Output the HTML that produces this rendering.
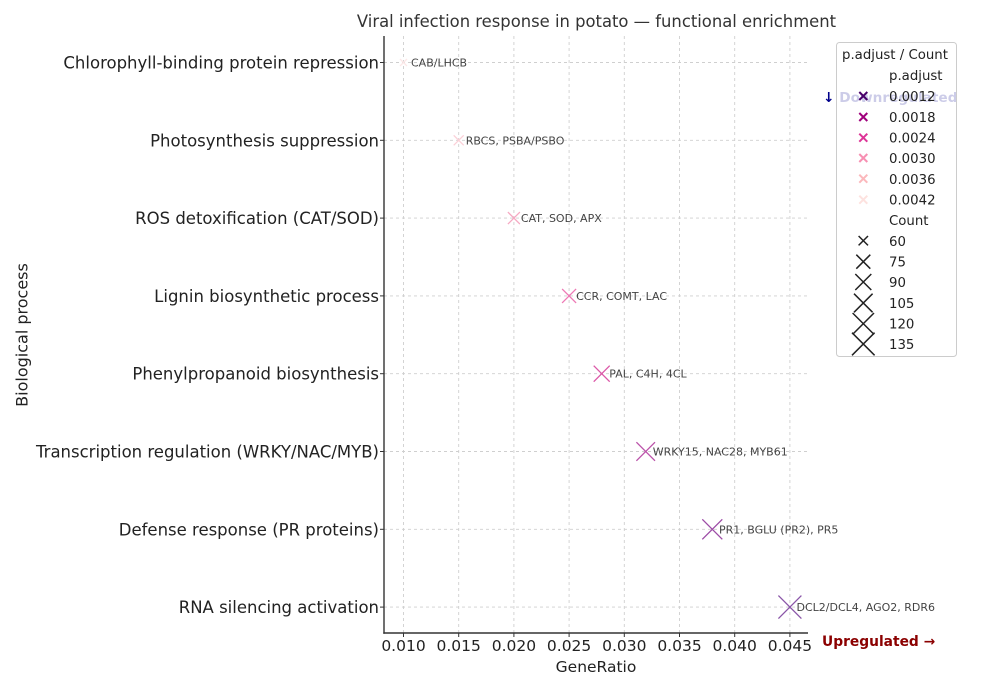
<!DOCTYPE html>
<html><head><meta charset="utf-8"><style>
html,body{margin:0;padding:0;background:#fff;}
svg{display:block;font-family:"DejaVu Sans","Liberation Sans",sans-serif;}
</style></head><body>
<svg width="989" height="692" viewBox="0 0 989 692" xmlns="http://www.w3.org/2000/svg">
<rect width="989" height="692" fill="#fff"/>
<text x="596.5" y="27" font-size="16.4" fill="#333" text-anchor="middle">Viral infection response in potato — functional enrichment</text>
<g stroke="#cfcfcf" stroke-width="0.9" stroke-dasharray="3,3">
<line x1="403.5" y1="36" x2="403.5" y2="633"/><line x1="458.7" y1="36" x2="458.7" y2="633"/><line x1="513.9" y1="36" x2="513.9" y2="633"/><line x1="569.1" y1="36" x2="569.1" y2="633"/><line x1="624.3" y1="36" x2="624.3" y2="633"/><line x1="679.5" y1="36" x2="679.5" y2="633"/><line x1="734.7" y1="36" x2="734.7" y2="633"/><line x1="789.9" y1="36" x2="789.9" y2="633"/>
<line x1="384" y1="62.5" x2="808" y2="62.5"/><line x1="384" y1="140.3" x2="808" y2="140.3"/><line x1="384" y1="218.1" x2="808" y2="218.1"/><line x1="384" y1="295.9" x2="808" y2="295.9"/><line x1="384" y1="373.7" x2="808" y2="373.7"/><line x1="384" y1="451.5" x2="808" y2="451.5"/><line x1="384" y1="529.3" x2="808" y2="529.3"/><line x1="384" y1="607.1" x2="808" y2="607.1"/>
</g>
<g stroke="#333" stroke-width="1.4" fill="none">
<line x1="384" y1="36" x2="384" y2="633.7"/><line x1="383.3" y1="633" x2="808" y2="633"/>
</g>
<g stroke="#333" stroke-width="1">
<line x1="380" y1="62.5" x2="384" y2="62.5"/><line x1="380" y1="140.3" x2="384" y2="140.3"/><line x1="380" y1="218.1" x2="384" y2="218.1"/><line x1="380" y1="295.9" x2="384" y2="295.9"/><line x1="380" y1="373.7" x2="384" y2="373.7"/><line x1="380" y1="451.5" x2="384" y2="451.5"/><line x1="380" y1="529.3" x2="384" y2="529.3"/><line x1="380" y1="607.1" x2="384" y2="607.1"/>
<line x1="403.5" y1="633" x2="403.5" y2="637"/><line x1="458.7" y1="633" x2="458.7" y2="637"/><line x1="513.9" y1="633" x2="513.9" y2="637"/><line x1="569.1" y1="633" x2="569.1" y2="637"/><line x1="624.3" y1="633" x2="624.3" y2="637"/><line x1="679.5" y1="633" x2="679.5" y2="637"/><line x1="734.7" y1="633" x2="734.7" y2="637"/><line x1="789.9" y1="633" x2="789.9" y2="637"/>
</g>
<g font-size="16.5" fill="#222" text-anchor="end">
<text x="379" y="68.5">Chlorophyll-binding protein repression</text>
<text x="379" y="146.3">Photosynthesis suppression</text>
<text x="379" y="224.1">ROS detoxification (CAT/SOD)</text>
<text x="379" y="301.9">Lignin biosynthetic process</text>
<text x="379" y="379.7">Phenylpropanoid biosynthesis</text>
<text x="379" y="457.5">Transcription regulation (WRKY/NAC/MYB)</text>
<text x="379" y="535.3">Defense response (PR proteins)</text>
<text x="379" y="613.1">RNA silencing activation</text>
</g>
<g font-size="15.5" fill="#222" text-anchor="middle">
<text x="403.5" y="651">0.010</text><text x="458.7" y="651">0.015</text><text x="513.9" y="651">0.020</text><text x="569.1" y="651">0.025</text><text x="624.3" y="651">0.030</text><text x="679.5" y="651">0.035</text><text x="734.7" y="651">0.040</text><text x="789.9" y="651">0.045</text>
</g>
<text x="596" y="672" font-size="15.5" fill="#222" text-anchor="middle">GeneRatio</text>
<text transform="translate(27.5,335) rotate(-90)" font-size="16" fill="#222" text-anchor="middle">Biological process</text>
<g fill="none" stroke-width="1.3">
<path d="M400,59 l7,7 M407,59 l-7,7" stroke="#fde8e8"/>
<path d="M453.7,135.3 l10,10 M463.7,135.3 l-10,10" stroke="#fbd0d8"/>
<path d="M507.9,212.1 l12,12 M519.9,212.1 l-12,12" stroke="#f6a8c2"/>
<path d="M562.1,288.9 l14,14 M576.1,288.9 l-14,14" stroke="#ee7ab5"/>
<path d="M593.7,365.7 l16,16 M609.7,365.7 l-16,16" stroke="#dc58a8"/>
<path d="M636.4,442.2 l18.6,18.6 M655,442.2 l-18.6,18.6" stroke="#bb52a9"/>
<path d="M702.3,519.3 l20,20 M722.3,519.3 l-20,20" stroke="#9c4ca6"/>
<path d="M778.4,595.6 l23,23 M801.4,595.6 l-23,23" stroke="#8a55a8"/>
</g>
<g font-size="11" fill="#444">
<text x="411" y="66.5">CAB/LHCB</text>
<text x="465.7" y="144.3">RBCS, PSBA/PSBO</text>
<text x="520.9" y="222.1">CAT, SOD, APX</text>
<text x="576.1" y="299.9">CCR, COMT, LAC</text>
<text x="609.3" y="377.7">PAL, C4H, 4CL</text>
<text x="652.7" y="455.5">WRKY15, NAC28, MYB61</text>
<text x="719" y="533.3">PR1, BGLU (PR2), PR5</text>
<text x="796.5" y="611.1">DCL2/DCL4, AGO2, RDR6</text>
</g>
<text x="822" y="646" font-size="13.8" font-weight="bold" fill="#8b0000">Upregulated →</text>
<text x="823" y="102" font-size="13.7" font-weight="bold" fill="#00008b">↓ Downregulated</text>
<rect x="836.5" y="42.5" width="120" height="314" rx="3" fill="#fff" fill-opacity="0.8" stroke="#cccccc" stroke-width="1"/>
<g font-size="13.3" fill="#222">
<text x="842" y="59">p.adjust / Count</text>
<text x="889" y="80">p.adjust</text>
<text x="889" y="101">0.0012</text>
<text x="889" y="122">0.0018</text>
<text x="889" y="142.5">0.0024</text>
<text x="889" y="163">0.0030</text>
<text x="889" y="184">0.0036</text>
<text x="889" y="204.5">0.0042</text>
<text x="889" y="225">Count</text>
<text x="889" y="246">60</text>
<text x="889" y="266.5">75</text>
<text x="889" y="287">90</text>
<text x="889" y="308">105</text>
<text x="889" y="328.5">120</text>
<text x="889" y="349">135</text>
</g>
<g fill="none" stroke-width="2">
<path d="M859.3,92 l8,8 M867.3,92 l-8,8" stroke="#49006a"/>
<path d="M859.3,113 l8,8 M867.3,113 l-8,8" stroke="#a0017c"/>
<path d="M859.3,133.7 l8,8 M867.3,133.7 l-8,8" stroke="#dd3497"/>
<path d="M859.3,154 l8,8 M867.3,154 l-8,8" stroke="#f78fb2"/>
<path d="M859.3,174.7 l8,8 M867.3,174.7 l-8,8" stroke="#fbb8bc"/>
<path d="M859.3,195.7 l8,8 M867.3,195.7 l-8,8" stroke="#fde2df"/>
</g>
<g fill="none" stroke="#222" stroke-width="1.5">
<path d="M858.6,236 l9.4,9.4 M868,236 l-9.4,9.4"/>
<path d="M856.3,254.7 l14,14 M870.3,254.7 l-14,14"/>
<path d="M855.3,274 l16,16 M871.3,274 l-16,16"/>
<path d="M854,293.7 l18.6,18.6 M872.6,293.7 l-18.6,18.6"/>
<path d="M852.6,313 l21.4,21.4 M874,313 l-21.4,21.4"/>
<path d="M852,332.7 l22.6,22.6 M874.6,332.7 l-22.6,22.6"/>
</g>
</svg>
</body></html>
